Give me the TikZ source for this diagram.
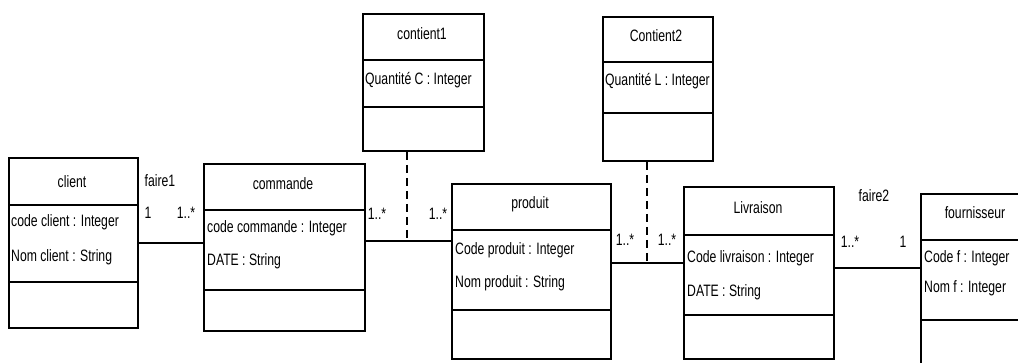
\documentclass[tikz,border=0pt]{standalone}
\usepackage{fontspec}
\setmainfont{Liberation Sans}[FakeStretch=0.74]
\usetikzlibrary{calc}
\tikzset{
  cls/.style={draw, line width=2pt, rectangle, anchor=north west, inner sep=0pt},
  sep/.style={line width=2pt},
  conn/.style={line width=1.6pt},
  dsh/.style={line width=1.8pt, dash pattern=on 8pt off 5pt},
  txt/.style={font=\fontsize{16.5}{18}\selectfont, inner sep=0pt},
  attr/.style={txt, anchor=west},
  mult/.style={txt},
}
\begin{document}
\begin{tikzpicture}[x=1pt,y=-1pt]
\useasboundingbox (0,0) rectangle (1018,363);
% classes
\node[cls, minimum width=129pt, minimum height=170pt] (client) at (8,157) {};
\node[cls, minimum width=161pt, minimum height=167pt] (commande) at (203,163) {};
\node[cls, minimum width=121pt, minimum height=137pt] (contient1) at (362,13) {};
\node[cls, minimum width=110pt, minimum height=144pt] (contient2) at (602,16) {};
\node[cls, minimum width=159pt, minimum height=175pt] (produit) at (451,183) {};
\node[cls, minimum width=150pt, minimum height=172pt] (livraison) at (683,186) {};
\node[cls, minimum width=120pt, minimum height=190pt] (fournisseur) at (920,193) {};
% separators
\foreach \n/\a/\b in {client/48/125, commande/47/127, contient1/47/94, contient2/46/97, produit/47/127, livraison/49/129, fournisseur/47/127}{
  \draw[sep] ($(\n.north west)+(0,\a)$) -- ($(\n.north east)+(0,\a)$);
  \draw[sep] ($(\n.north west)+(0,\b)$) -- ($(\n.north east)+(0,\b)$);
}
% headers
\node[txt] (hclient) at (72,182) {client};
\node[txt] (hcommande) at (283,184) {commande};
\node[txt] (hcontient1) at (422,34) {contient1};
\node[txt] (hcontient2) at (656,36) {Contient2};
\node[txt] (hproduit) at (530,204) {produit};
\node[txt] (hlivraison) at (758,208) {Livraison};
\node[txt] (hfournisseur) at (975,213) {fournisseur};
% attributes
\node[attr] (a1) at (11,222) {code client : Integer};
\node[attr] (a2) at (11,257) {Nom client : String};
\node[attr] (a3) at (207,228) {code commande : Integer};
\node[attr] (a4) at (207,261) {DATE : String};
\node[attr] (a5) at (365,80) {Quantité C : Integer};
\node[attr] (a6) at (605,81) {Quantité L : Integer};
\node[attr] (a7) at (455,250) {Code produit : Integer};
\node[attr] (a8) at (455,283) {Nom produit : String};
\node[attr] (a9) at (687,258) {Code livraison : Integer};
\node[attr] (a10) at (687,292) {DATE : String};
\node[attr] (a11) at (924,258) {Code f : Integer};
\node[attr] (a12) at (924,288) {Nom f : Integer};
% connectors
\draw[conn] (client.east |- 0,243) -- (commande.west |- 0,243);
\draw[conn] (commande.east |- 0,241) -- (produit.west |- 0,241);
\draw[conn] (produit.east |- 0,263) -- (livraison.west |- 0,263);
\draw[conn] (livraison.east |- 0,268) -- (fournisseur.west |- 0,268);
\coordinate (m1) at (407,241);
\coordinate (m2) at (647,263);
\draw[dsh] (contient1.south -| m1) -- (m1);
\draw[dsh] (contient2.south -| m2) -- (m2);
% labels
\node[mult] (l1) at (160,181) {faire1};
\node[mult] (l2) at (148,213) {1};
\node[mult] (l3) at (186,213) {1..*};
\node[mult] (l4) at (377,214) {1..*};
\node[mult] (l5) at (438,214) {1..*};
\node[mult] (l6) at (625,240) {1..*};
\node[mult] (l7) at (667,240) {1..*};
\node[mult] (l8) at (874,196) {faire2};
\node[mult] (l9) at (850,242) {1..*};
\node[mult] (l10) at (903,242) {1};
\end{tikzpicture}
\end{document}
